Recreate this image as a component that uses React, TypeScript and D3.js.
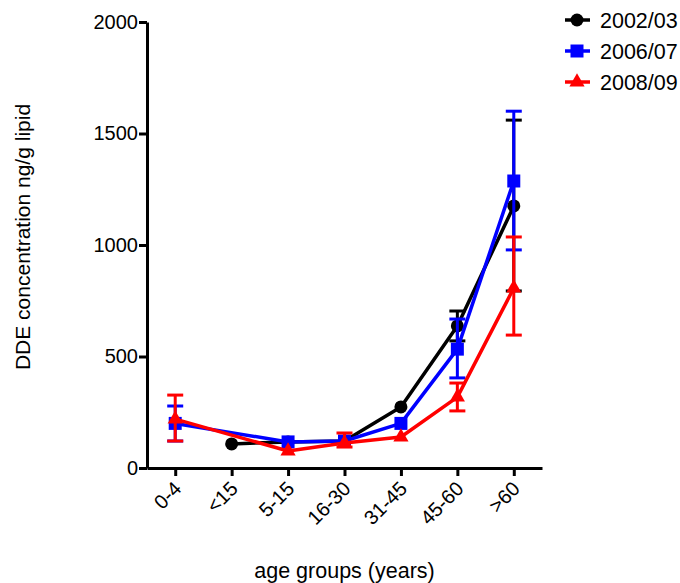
import React, {useRef, useEffect} from "react";
import * as d3 from "d3";

// age groups on the x axis
const ageGroups = ["0-4", "<15", "5-15", "16-30", "31-45", "45-60", ">60"];
const yTicks = [0, 500, 1000, 1500, 2000];

// mean DDE per age group, null where the survey had no group
const mean0203 = [null, 108, 117, 121, 274, 637, 1175];
const lo0203 = [null, null, null, null, null, 570, 794];
const hi0203 = [null, null, null, null, null, 704, 1560];

const mean0607 = [200, null, 117, 121, 200, 533, 1287];
const lo0607 = [121, null, null, null, null, 404, 978];
const hi0607 = [278, null, null, null, null, 668, 1600];

const mean0809 = [219, null, 76, 112, 139, 318, 807];
const lo0809 = [121, null, null, 94, null, 256, 596];
const hi0809 = [327, null, null, 157, null, 381, 1036];

const seriesNames = ["2002/03", "2006/07", "2008/09"];
const seriesColors = ["#000000", "#0000ff", "#ff0000"];
const seriesSymbols = [d3.symbolCircle, d3.symbolSquare, d3.symbolTriangle];
const symbolSizes = [133, 169, 100];

export default function App() {

	const ref = useRef(null);

	let layout = {"width": 680,
				  "height": 583,
				  "left": 147,
				  "right": 542,
				  "top": 22,
				  "bottom": 468};

	useEffect(() => {

		let svg = d3.select(ref.current);
		svg.selectAll("*").remove();

		let font = "'Liberation Sans', Arial, sans-serif";

		let xScale = d3.scalePoint()
						.domain(ageGroups)
						.range([layout.left, layout.right])
						.padding(0.5);

		let yScale = d3.scaleLinear()
						.domain([0, 2000])
						.range([layout.bottom, layout.top]);

		// axes
		let yAxis = svg.append("g")
					.attr("transform", `translate(${layout.left}, 0)`)
					.call(d3.axisLeft(yScale).tickValues(yTicks).tickSize(8).tickSizeOuter(0).tickFormat(d3.format("d")));
		yAxis.select(".domain").attr("stroke-width", 3);
		yAxis.selectAll(".tick line").attr("stroke-width", 3);
		yAxis.selectAll(".tick text")
			.attr("font-family", font)
			.attr("font-size", 20)
			.attr("fill", "#000")
			.attr("x", -9);

		let xAxis = svg.append("g")
					.attr("transform", `translate(0, ${layout.bottom})`)
					.call(d3.axisBottom(xScale).tickSize(8).tickSizeOuter(0));
		xAxis.select(".domain").attr("stroke-width", 3);
		xAxis.selectAll(".tick line").attr("stroke-width", 3);
		xAxis.selectAll(".tick text")
			.attr("font-family", font)
			.attr("font-size", 20)
			.attr("fill", "#000")
			.attr("text-anchor", "end")
			.attr("y", 0)
			.attr("dy", "0.35em")
			.attr("transform", "translate(2, 17) rotate(-45)");

		// axis titles
		svg.append("text")
			.attr("x", (layout.left + layout.right) / 2)
			.attr("y", 578)
			.attr("text-anchor", "middle")
			.attr("font-family", font)
			.attr("font-size", 21.5)
			.text("age groups (years)");

		svg.append("text")
			.attr("transform", `translate(30, 237) rotate(-90)`)
			.attr("text-anchor", "middle")
			.attr("font-family", font)
			.attr("font-size", 21)
			.text("DDE concentration ng/g lipid");

		let means = [mean0203, mean0607, mean0809];
		let los = [lo0203, lo0607, lo0809];
		let his = [hi0203, hi0607, hi0809];

		for (let s = 0; s < 3; s++) {
			let pts = ageGroups.map((g, i) => ({"g": g, "m": means[s][i], "lo": los[s][i], "hi": his[s][i]}))
							.filter(d => d.m !== null);
			let col = seriesColors[s];
			let grp = svg.append("g");

			// error bars
			let eb = pts.filter(d => d.lo !== null);
			grp.selectAll(".eb")
				.data(eb)
				.join("line")
				.attr("x1", d => xScale(d.g))
				.attr("x2", d => xScale(d.g))
				.attr("y1", d => yScale(d.lo))
				.attr("y2", d => yScale(d.hi))
				.attr("stroke", col)
				.attr("stroke-width", 3);
			for (let key of ["lo", "hi"]) {
				grp.selectAll(".cap" + key)
					.data(eb)
					.join("line")
					.attr("x1", d => xScale(d.g) - 8)
					.attr("x2", d => xScale(d.g) + 8)
					.attr("y1", d => yScale(d[key]))
					.attr("y2", d => yScale(d[key]))
					.attr("stroke", col)
					.attr("stroke-width", 3);
			}

			let line = d3.line()
						.x(d => xScale(d.g))
						.y(d => yScale(d.m));

			grp.append("path")
				.datum(pts)
				.attr("d", line)
				.attr("fill", "none")
				.attr("stroke", col)
				.attr("stroke-width", 3.5)
				.attr("stroke-linejoin", "round");

			grp.selectAll(".pt")
				.data(pts)
				.join("path")
				.attr("transform", d => `translate(${xScale(d.g)}, ${yScale(d.m)})`)
				.attr("d", d3.symbol().type(seriesSymbols[s]).size(symbolSizes[s]))
				.attr("fill", col);

			// legend
			let ly = 20 + s * 31;
			let leg = svg.append("g").attr("transform", `translate(577, ${ly})`);
			leg.append("line")
				.attr("x1", -12)
				.attr("x2", 13)
				.attr("stroke", col)
				.attr("stroke-width", 3.5);
			leg.append("path")
				.attr("d", d3.symbol().type(seriesSymbols[s]).size(symbolSizes[s]))
				.attr("fill", col);
			leg.append("text")
				.attr("x", 23)
				.attr("dy", "0.36em")
				.attr("font-family", font)
				.attr("font-size", 21.5)
				.text(seriesNames[s]);
		}

	}, []);

	return (
		<svg ref={ref}
			 width={layout.width}
			 height={layout.height}
			 style={{"position": "absolute", "left": 0, "top": 0, "background": "#fff"}} />
	);
}
